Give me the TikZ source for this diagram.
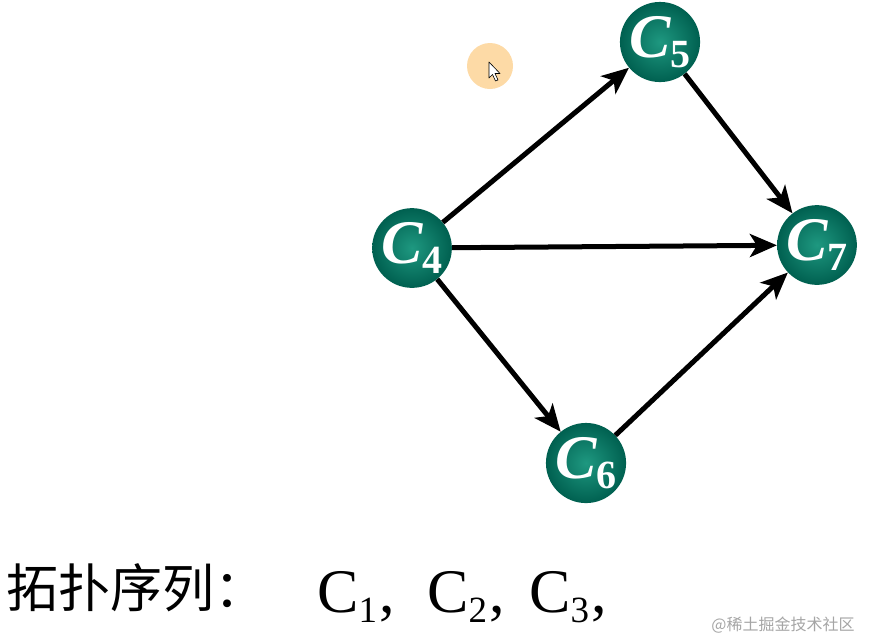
\documentclass[tikz,border=0pt]{standalone}
\usepackage{fontspec}
\setmainfont{Liberation Serif}
\newfontfamily\cjk{Noto Sans CJK SC}
\usetikzlibrary{arrows.meta}

\definecolor{ballin}{RGB}{30,152,128}
\definecolor{ballout}{RGB}{0,96,80}
\definecolor{cursorfill}{RGB}{253,218,166}
\definecolor{markgray}{RGB}{165,165,165}

\newcommand{\vlabel}[1]{C\raisebox{-10pt}{\fontsize{40}{40}\selectfont\upshape #1}}
\newcommand{\seqlabel}[1]{C\raisebox{-10pt}{\fontsize{37}{37}\selectfont #1}\kern2pt,}

\begin{document}
\begin{tikzpicture}[
  x=1pt, y=-1pt,
  >={Stealth[length=27pt, width=23pt, inset=7pt]},
  vertex/.style    = {circle, minimum size=77pt, inner sep=0pt,
                      inner color=ballin, outer color=ballout, text=white,
                      font=\fontsize{62}{62}\selectfont\bfseries\itshape},
  edge line/.style = {->, draw=black, line width=5pt},
  seq text/.style  = {anchor=base west, inner sep=0pt,
                      font=\fontsize{62}{62}\selectfont},
]

% ── Frame ──────────────────────────────────────────────────────────────────
\useasboundingbox (0,0) rectangle (874,641);

% ── Cursor highlight ───────────────────────────────────────────────────────
\fill[cursorfill] (490,66) circle (23);
\draw[black, fill=white, line width=0.6pt, line join=round]
  (489,62) -- (489,78) -- (492.5,74.5) -- (495.5,81) -- (498,80)
  -- (495,73.5) -- (500,73.5) -- cycle;

% ── Vertices ───────────────────────────────────────────────────────────────
\node[vertex] (c4) at (412,248) {\vlabel{4}};
\node[vertex] (c5) at (660,42)  {\vlabel{5}};
\node[vertex] (c7) at (817,245) {\vlabel{7}};
\node[vertex] (c6) at (586,463) {\vlabel{6}};

% ── Edges ──────────────────────────────────────────────────────────────────
\draw[edge line] (c4) -- (c5);
\draw[edge line] (c4) -- (c7);
\draw[edge line] (c4) -- (c6);
\draw[edge line] (c5) -- (c7);
\draw[edge line] (c6) -- (c7);

% ── Sequence text ──────────────────────────────────────────────────────────
\node[anchor=base west, inner sep=0pt, font=\cjk\fontsize{52}{52}\selectfont]
  (title) at (6,607) {拓扑序列：};
\node[seq text] (s1) at (317,612) {\seqlabel{1}};
\node[seq text] (s2) at (427,612) {\seqlabel{2}};
\node[seq text] (s3) at (529,612) {\seqlabel{3}};

% ── Watermark ──────────────────────────────────────────────────────────────
\node[text=markgray, font=\cjk\fontsize{16}{16}\selectfont]
  (mark) at (783,625) {@稀土掘金技术社区};

\end{tikzpicture}
\end{document}
